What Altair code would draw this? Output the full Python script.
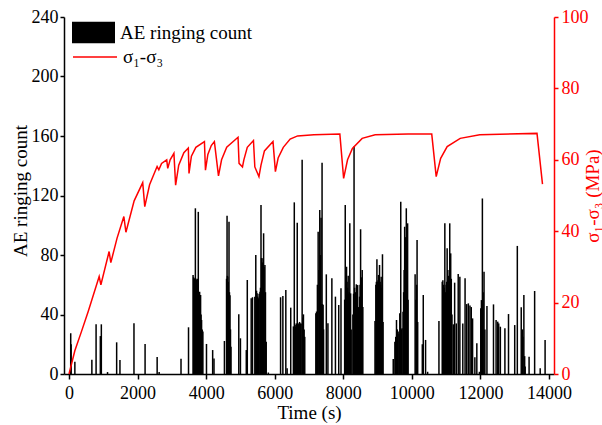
import altair as alt
import pandas as pd

# AE ringing count bars (time in s, count)
bar_time = [50, 62, 171, 667, 790, 914, 943, 1124, 1390, 1486, 1895, 2219, 2571, 2629, 3267, 3486,
            3619, 3634, 3648, 3665, 3686, 3700, 3712, 3724, 3740, 3755, 3771, 3790, 3810, 3825, 3838, 3852, 3867, 3885, 3905,
            4010, 4190, 4229, 4533,
            4595, 4610, 4620, 4629, 4645, 4667, 4680, 4695, 4710, 4724,
            4952, 5000, 5171, 5200, 5314, 5352,
            5420, 5448, 5470, 5486, 5505, 5524, 5545, 5571, 5585, 5600, 5615, 5629, 5650, 5676, 5690, 5714, 5730, 5752,
            5814, 6171, 6238, 6324, 6362, 6467,
            6545, 6571, 6585, 6600, 6620, 6640, 6657, 6675, 6690, 6705, 6725, 6745, 6771, 6800, 6820, 6838, 6858, 6876,
            7200, 7220, 7245, 7267, 7290, 7314, 7335, 7352, 7366, 7381, 7396, 7410, 7425,
            7505, 7552, 7667, 7771, 7867, 7933,
            8040, 8057, 8075, 8095, 8110, 8125, 8143, 8160, 8175, 8190, 8214, 8230,
            8280, 8300, 8314, 8330, 8345, 8360, 8381, 8400, 8419, 8440, 8457, 8475, 8490, 8505, 8525, 8552, 8570,
            8925, 8950, 8965, 8981, 9000, 9015, 9029, 9045, 9057, 9075, 9090, 9105, 9120, 9143, 9160,
            9457, 9505, 9530, 9552, 9575, 9600, 9625, 9648, 9676, 9695, 9714, 9743, 9760, 9775, 9790, 9810, 9838, 9858, 9876, 9890,
            10095, 10120, 10140, 10152, 10170,
            10305, 10333, 10400, 10460, 10790,
            10886, 10905, 10925, 10945, 10962, 10980, 11000, 11015, 11029, 11050, 11070, 11090, 11105, 11120, 11133, 11150, 11170,
            11210, 11248, 11295, 11352, 11400, 11486, 11552, 11600, 11648, 11695, 11733, 11771, 11838, 11895, 11970,
            12010, 12029, 12057, 12080, 12105, 12130,
            12190, 12381, 12457, 12505, 12533, 12581, 12714, 12819, 13000, 13076,
            13190, 13220, 13240, 13267, 13290, 13305,
            13419, 13581, 13743, 13886]
bar_count = [27.4, 20, 8.3, 9.6, 33.4, 25.5, 33.4, 1.3, 21.3, 9.4, 34.1, 20.2, 11.5, 1.3, 10.3, 31.4,
             66.6, 65, 64.3, 64, 111.4, 64, 62, 63.2, 64, 60, 109, 55, 55.3, 50, 53.1, 40, 36.3, 30, 28.5,
             20.2, 16.1, 10.5, 22.2,
             64, 106.4, 66, 65.4, 62, 102.4, 55, 53, 30, 18.4,
             40.1, 24, 16.1, 63.2, 50.9, 51.6,
             52, 80, 56, 54.3, 52, 50.9, 54, 55.3, 58, 113.6, 78, 77.8, 75, 94.6, 72, 73.3, 55, 21.7,
             1.0, 51.6, 52.5, 56.5, 3.8, 44.6,
             32, 115.4, 34, 31.8, 33, 34, 101.7, 34, 33, 34, 35, 34, 34, 144, 38, 40.1, 30, 25,
             40.8, 42, 60, 95.7, 70, 110.3, 80, 105, 47, 142, 47, 46.4, 30,
             67, 34.1, 64.3, 52, 46.4, 57.6,
             50, 113.6, 60, 72.1, 62, 58, 66, 54, 55, 101.3, 54.2, 30,
             40, 54, 153, 58, 52, 55, 60.3, 58, 59.8, 45, 40.8, 52, 60, 97.3, 65, 70, 45,
             35.6, 60, 62, 77.1, 62, 63, 66.6, 60, 73.3, 62, 60, 65.4, 58, 80.5, 35,
             10.1, 21.7, 25, 36.3, 30, 28.5, 27, 40.8, 115.8, 30, 30.7, 41.9, 55, 70, 99, 92, 111.4, 95, 101.3, 50,
             67, 50, 60, 90.1, 35,
             20, 53.1, 22.9, 1.5, 35.6,
             62, 63, 60, 58, 101.3, 55, 60, 62, 84.5, 70, 66, 64, 101.3, 70, 81.1, 64, 40,
             33.4, 61.4, 34, 67.2, 65.4, 34, 64.3, 47, 47.5, 46, 45, 37.4, 11.2, 20.6, 1.5,
             44.2, 49.7, 118, 55, 68.8, 30,
             45.7, 46.8, 36.3, 35.2, 34, 31.8, 30.7, 40.3, 32.9, 86.1,
             44.8, 30, 25, 53.1, 12, 5,
             11.6, 55.8, 3.8, 22.9]

# sigma1 - sigma3 stress curve (time in s, MPa)
line_time = [0, 170, 360, 560, 880, 930, 1170, 1220, 1400, 1600, 1660, 1900, 2150, 2210, 2350, 2500,
             2570, 2620, 2700, 2850, 2880, 2950, 3060, 3110, 3200, 3350, 3480, 3500, 3570, 3700, 3950,
             3980, 4050, 4150, 4240, 4360, 4450, 4600, 4930, 4960, 5060, 5100, 5200, 5380, 5420, 5540,
             5600, 5700, 5950, 6020, 6100, 6250, 6450, 6667, 7143, 7900, 8010, 8124, 8266, 8550, 8930,
             9890, 10580, 10710, 10840, 11030, 11410, 11980, 13650, 13810]
line_stress = [0, 6.5, 11.8, 17.5, 27.3, 25.0, 34.3, 31.2, 38.0, 44.1, 39.7, 48.5, 53.6, 46.9, 53.0, 56.5,
               58.1, 57.2, 59.0, 60.0, 57.6, 60.0, 61.8, 52.9, 58.5, 62.0, 63.3, 56.2, 61.0, 63.5, 65.1,
               57.1, 61.5, 64.0, 65.1, 55.5, 60.0, 63.5, 66.3, 59.0, 58.0, 60.0, 63.5, 65.4, 58.0, 55.3,
               58.5, 62.5, 65.1, 56.7, 60.5, 63.5, 65.8, 66.7, 67.0, 67.2, 54.8, 60.0, 63.2, 66.0, 67.0,
               67.2, 67.2, 55.3, 60.4, 63.7, 66.0, 67.0, 67.4, 53.2]

bar_label = "AE ringing count"
line_label = "σ₁-σ₃"

bars_df = pd.DataFrame({"time": bar_time, "count": bar_count, "series": bar_label})
line_df = pd.DataFrame({"time": line_time, "stress": line_stress, "series": line_label})

FONT = "Liberation Serif"
W, H = 490, 357

x_enc = alt.X("time:Q", scale=alt.Scale(domain=[0, 14000], nice=False),
              axis=alt.Axis(values=list(range(0, 14001, 2000)), format="d", title="Time (s)",
                            titleX=W / 2, titleY=38, titleBaseline="middle",
                            labelPadding=5, tickSize=5))

bars = alt.Chart(bars_df).mark_bar(size=1.5).encode(
    x=x_enc,
    y=alt.Y("count:Q", scale=alt.Scale(domain=[0, 240], nice=False),
            axis=alt.Axis(values=list(range(0, 241, 40)), title="AE ringing count",
                          titleX=-44, titleY=H / 2 - 5, titleAngle=270, titleAlign="center",
                          titleBaseline="middle", tickSize=4, labelPadding=2)),
    fill=alt.Fill("series:N", scale=alt.Scale(domain=[bar_label], range=["black"]),
                  legend=alt.Legend(title=None, orient="none", legendX=8, legendY=-6,
                                    symbolType="M-1,-0.5H1V0.5H-1Z", symbolSize=1849,
                                    symbolStrokeWidth=0, symbolOpacity=1,
                                    labelFont=FONT, labelFontSize=19, labelColor="black",
                                    labelOffset=5, padding=0)),
)

line = alt.Chart(line_df).mark_line(strokeWidth=1.5).encode(
    x=alt.X("time:Q"),
    y=alt.Y("stress:Q", scale=alt.Scale(domain=[0, 100], nice=False),
            axis=alt.Axis(orient="right", values=list(range(0, 101, 20)), title="σ₁-σ₃ (MPa)",
                          titleX=38, titleY=H / 2, titleAngle=270, titleAlign="center",
                          titleBaseline="middle", tickSize=4, labelPadding=3,
                          domainColor="red", tickColor="red", labelColor="red", titleColor="red")),
    stroke=alt.Stroke("series:N", scale=alt.Scale(domain=[line_label], range=["red"]),
                      legend=alt.Legend(title=None, orient="none", legendX=8, legendY=17,
                                        symbolType="stroke", symbolSize=1936, symbolStrokeWidth=1.5,
                                        labelFont=FONT, labelFontSize=19, labelColor="black",
                                        labelOffset=5, padding=0)),
)

chart = alt.layer(bars, line).resolve_scale(y="independent", fill="independent", stroke="independent").properties(
    width=W, height=H,
    autosize=alt.AutoSizeParams(type="none"),
    padding={"left": 64, "top": 17, "right": 48, "bottom": 51},
    background="white",
).configure_view(stroke=None).configure_axis(
    grid=False, labelFont=FONT, labelFontSize=18, titleFont=FONT, titleFontSize=19,
    titleFontWeight="normal", labelColor="black", titleColor="black",
    domainColor="black", tickColor="black", domainWidth=1.5, tickWidth=1.5,
)

chart.save("out.html", embed_options={"renderer": "svg", "actions": False})
